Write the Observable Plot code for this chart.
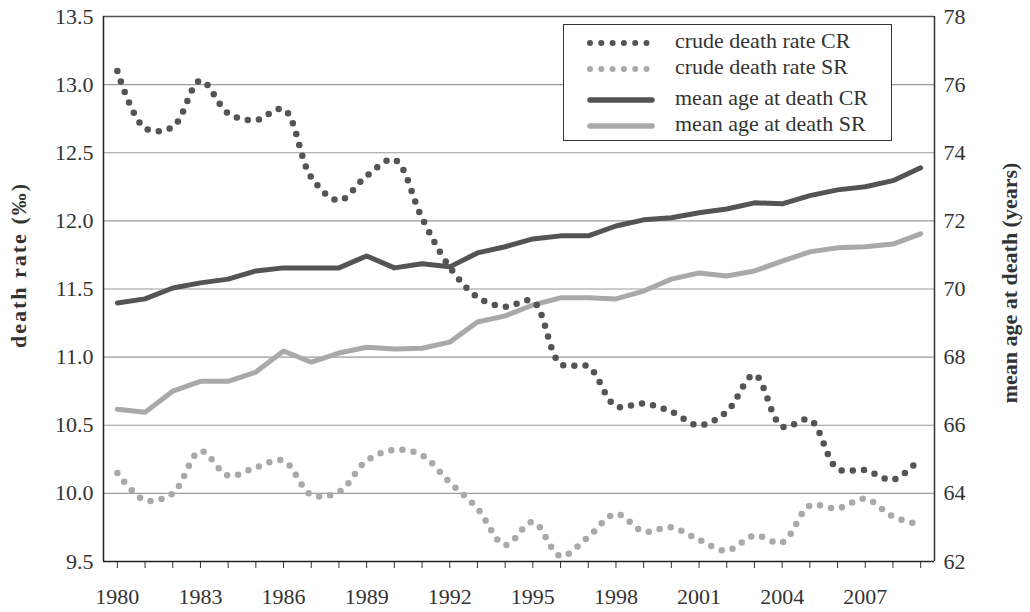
<!DOCTYPE html>
<html>
<head>
<meta charset="utf-8">
<script src="https://cdn.jsdelivr.net/npm/d3@7"></script>
<script src="https://cdn.jsdelivr.net/npm/@observablehq/plot@0.6"></script>
<style>
  html, body { margin: 0; padding: 0; background: #fff; }
  #wrap { position: relative; width: 1030px; height: 612px; font-family: "Liberation Serif", serif; }
  #legend { position: absolute; left: 563px; top: 24px; width: 329px; height: 117px; border: 1.5px solid #333; background: #fff; box-sizing: border-box; }
</style>
</head>
<body>
<div id="wrap"><div id="chart"></div><div id="legend"></div></div>
<script>
const years = [1980,1981,1982,1983,1984,1985,1986,1987,1988,1989,1990,1991,1992,1993,1994,1995,1996,1997,1998,1999,2000,2001,2002,2003,2004,2005,2006,2007,2008,2009];
const crudeCR = [13.10,12.68,12.69,13.03,12.79,12.74,12.82,12.32,12.15,12.33,12.45,12.02,11.66,11.44,11.37,11.41,10.95,10.93,10.64,10.66,10.60,10.50,10.60,10.87,10.49,10.54,10.18,10.17,10.10,10.26];
const crudeSR = [10.15,9.95,10.00,10.31,10.13,10.19,10.24,9.99,10.01,10.24,10.32,10.28,10.08,9.89,9.62,9.79,9.54,9.68,9.85,9.72,9.75,9.66,9.58,9.69,9.64,9.91,9.89,9.96,9.83,9.77];
const ageCR = [69.59,69.71,70.03,70.18,70.29,70.53,70.62,70.62,70.62,70.97,70.62,70.74,70.65,71.06,71.24,71.47,71.56,71.56,71.85,72.03,72.09,72.24,72.35,72.53,72.50,72.74,72.91,73.00,73.18,73.56];
const ageSR = [66.47,66.38,67.00,67.29,67.29,67.56,68.18,67.85,68.12,68.29,68.24,68.26,68.44,69.03,69.21,69.53,69.74,69.74,69.71,69.94,70.29,70.47,70.38,70.53,70.82,71.09,71.21,71.24,71.32,71.62];
const rateTicks = [9.5,10.0,10.5,11.0,11.5,12.0,12.5,13.0,13.5];
const ageTicks = [62,64,66,68,70,72,74,76,78];
const yearLabels = [1980,1983,1986,1989,1992,1995,1998,2001,2004,2007];
const seriesNames = ["crude death rate CR","crude death rate SR","mean age at death CR","mean age at death SR"];

const DARK = "#545454", LIGHT = "#a9a9a9";
// map the right-hand age scale onto the left-hand rate scale
const ageToRate = a => 9.5 + (a - 62) / 4;
const rateToAge = r => Math.round(62 + (r - 9.5) * 4);

const rows = years.map((y, i) => ({year: y, cCR: crudeCR[i], cSR: crudeSR[i], aCR: ageToRate(ageCR[i]), aSR: ageToRate(ageSR[i])}));

const dotted = {strokeWidth: 6.5, strokeDasharray: "0 11.2", strokeLinecap: "round", curve: "catmull-rom"};

const chart = Plot.plot({
  width: 1030, height: 612,
  marginLeft: 103, marginRight: 96, marginTop: 16, marginBottom: 51,
  x: {domain: [1979.5, 2009.5]},
  y: {domain: [9.5, 13.5]},
  style: {fontFamily: "'Liberation Serif', serif", fontSize: "22px", color: "#333", background: "#fff"},
  marks: [
    Plot.gridY(rateTicks.slice(1, -1), {stroke: "#9a9a9a", strokeOpacity: 1, strokeWidth: 1.2}),
    Plot.axisY({ticks: rateTicks, tickSize: 0, tickPadding: 10, tickFormat: d => d.toFixed(1), label: null, fontSize: 22}),
    Plot.axisY({anchor: "right", ticks: ageTicks.map(ageToRate), tickSize: 0, tickPadding: 9, tickFormat: d => String(rateToAge(d)), label: null, fontSize: 22}),
    Plot.axisX({ticks: years, tickSize: 7, tickPadding: 20, tickFormat: d => yearLabels.includes(d) ? String(d) : "", label: null, fontSize: 22}),
    Plot.line(rows, {x: "year", y: "aSR", stroke: LIGHT, strokeWidth: 5}),
    Plot.line(rows, {x: "year", y: "aCR", stroke: DARK, strokeWidth: 5}),
    Plot.line(rows, {x: "year", y: "cSR", stroke: LIGHT, ...dotted}),
    Plot.line(rows, {x: "year", y: "cCR", stroke: DARK, ...dotted}),
    Plot.ruleY([13.5], {stroke: "#555", strokeWidth: 1.5}),
    Plot.ruleX([2009.5], {stroke: "#333", strokeWidth: 1.5}),
    Plot.ruleX([1979.5], {stroke: "#222", strokeWidth: 1.5}),
    Plot.ruleY([9.5], {stroke: "#222", strokeWidth: 1.5})
  ]
});
document.getElementById("chart").appendChild(chart);

const svg = d3.select(chart);
svg.selectAll('g[aria-label$="tick label"]').attr("font-size", 22);

// axis titles
svg.append("text").attr("transform", "translate(21,265) rotate(-90)")
  .attr("text-anchor", "middle").attr("dominant-baseline", "middle")
  .attr("font-weight", "bold").attr("font-size", 22).attr("fill", "#333")
  .attr("letter-spacing", "2px")
  .text("death rate (‰)");
svg.append("text").attr("transform", "translate(1012,283) rotate(-90)")
  .attr("text-anchor", "middle").attr("dominant-baseline", "middle")
  .attr("font-weight", "bold").attr("font-size", 22).attr("fill", "#333")
  .text("mean age at death (years)");

// legend
const styles = [
  {stroke: DARK, dotted: true}, {stroke: LIGHT, dotted: true},
  {stroke: DARK, dotted: false}, {stroke: LIGHT, dotted: false}
];
const rowY = [18, 44, 75, 101];
const lg = d3.select("#legend").append("svg").attr("width", 327).attr("height", 115);
seriesNames.forEach((name, i) => {
  const s = styles[i];
  const ln = lg.append("line").attr("x1", 26).attr("x2", 88).attr("y1", rowY[i]).attr("y2", rowY[i])
    .attr("stroke", s.stroke).attr("stroke-linecap", "round");
  if (s.dotted) ln.attr("stroke-width", 6).attr("stroke-dasharray", "0 11.3");
  else ln.attr("stroke-width", 5.5);
  lg.append("text").attr("x", 111).attr("y", rowY[i]).attr("dominant-baseline", "middle")
    .attr("font-family", "'Liberation Serif', serif").attr("font-size", 22).attr("fill", "#333")
    .text(name);
});
</script>
</body>
</html>
